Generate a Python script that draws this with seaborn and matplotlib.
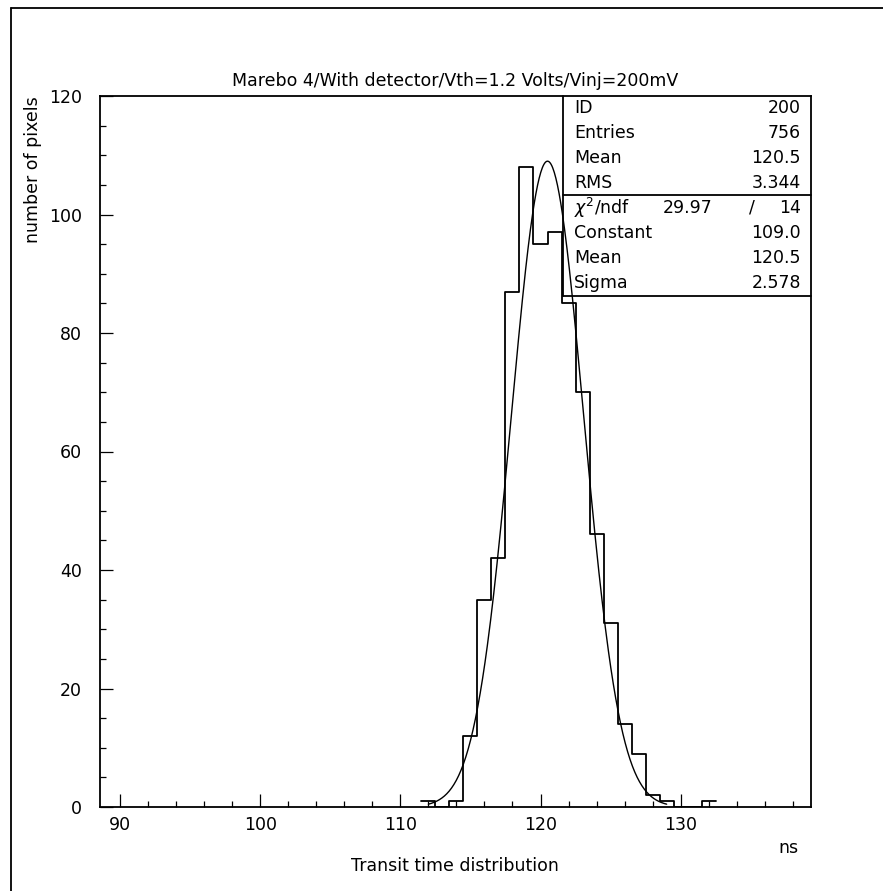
import numpy as np
import pandas as pd
import matplotlib
matplotlib.use("Agg")
import matplotlib.pyplot as plt
import seaborn as sns
from matplotlib.ticker import MultipleLocator

# ---- data ----
bin_centers = [112, 113, 114, 115, 116, 117, 118, 119, 120, 121, 122, 123, 124, 125, 126, 127, 128, 129, 130, 131, 132]
bin_counts  = [1,   0,   1,   12,  35,  42,  87,  108, 95,  97,  85,  70,  46,  31,  14,  9,   2,   1,   0,   0,   1]
fit_constant = 109.0
fit_mean = 120.5
fit_sigma = 2.578
fit_range = [112.0, 129.0]

title = "Marebo 4/With detector/Vth=1.2 Volts/Vinj=200mV"
xlabel = "Transit time distribution"
xunit = "ns"
ylabel = "number of pixels"
stats_top = [("ID", "200"), ("Entries", "756"), ("Mean", "120.5"), ("RMS", "3.344")]
stats_bottom = [("Constant", "109.0"), ("Mean", "120.5"), ("Sigma", "2.578")]
chi2_val, ndf_val = "29.97", "14"

W, H = 883, 891
sns.set_theme(style="white")
plt.rcParams['font.family'] = ['DejaVu Sans']
plt.rcParams['text.color'] = 'black'
plt.rcParams['xtick.color'] = 'black'
plt.rcParams['ytick.color'] = 'black'
plt.rcParams['axes.labelcolor'] = 'black'
FS = 12.5

fig = plt.figure(figsize=(W / 100, H / 100), dpi=100)
ax_l, ax_r, ax_t, ax_b = 100, 811, 96, 807
ax = fig.add_axes([ax_l / W, 1 - ax_b / H, (ax_r - ax_l) / W, (ax_b - ax_t) / H])

df = pd.DataFrame({"x": bin_centers, "n": bin_counts})
sns.histplot(data=df, x="x", weights="n", discrete=True, element="step", fill=False,
             color="black", linewidth=1.3, ax=ax)

xf = np.linspace(fit_range[0], fit_range[1], 300)
yf = fit_constant * np.exp(-0.5 * ((xf - fit_mean) / fit_sigma) ** 2)
sns.lineplot(x=xf, y=yf, color="black", linewidth=1.0, ax=ax)

ax.set_xlim(88.57, 139.3)
ax.set_ylim(0, 120)
ax.xaxis.set_major_locator(MultipleLocator(10))
ax.xaxis.set_minor_locator(MultipleLocator(2))
ax.yaxis.set_major_locator(MultipleLocator(20))
ax.yaxis.set_minor_locator(MultipleLocator(5))
ax.tick_params(which="major", direction="in", length=9.5, width=0.9, color="black",
               labelsize=FS, labelcolor="black", top=False, right=False, bottom=True, left=True)
ax.tick_params(which="minor", direction="in", length=4.5, width=0.9, color="black",
               top=False, right=False, bottom=True, left=True)
ax.tick_params(axis="x", which="major", pad=6.5)
ax.tick_params(axis="y", which="major", pad=13)
for s in ax.spines.values():
    s.set_color("black")
    s.set_linewidth(1.3)
ax.set_xlabel("")
ax.set_ylabel("")

def ft(x, y, s, **kw):
    fig.text(x / W, 1 - y / H, s, color="black", **kw)

ft(455, 81, title, ha="center", va="center", fontsize=FS)
ft(455, 866, xlabel, ha="center", va="center", fontsize=FS)
ft(798, 848, xunit, ha="right", va="center", fontsize=FS)
ft(33, 96, ylabel, ha="center", va="top", rotation=90, fontsize=FS)

# stats box
bx_l, bx_r, bx_t, bx_mid, bx_b = 563, 811, 96, 195, 296
def hline(y):
    fig.add_artist(plt.Line2D([bx_l / W, bx_r / W], [1 - y / H, 1 - y / H], color="black", lw=1.3))
fig.add_artist(plt.Line2D([bx_l / W, bx_l / W], [1 - bx_t / H, 1 - bx_b / H], color="black", lw=1.3))
hline(bx_mid)
hline(bx_b)
row_h1 = (bx_mid - bx_t) / 4
for i, (k, v) in enumerate(stats_top):
    yc = bx_t + row_h1 * (i + 0.5)
    ft(574, yc, k, ha="left", va="center", fontsize=FS)
    ft(801, yc, v, ha="right", va="center", fontsize=FS)
row_h2 = (bx_b - bx_mid) / 4
yc = bx_mid + row_h2 * 0.5
ft(574, yc, r"$\chi^2$/ndf", ha="left", va="center", fontsize=FS)
ft(712, yc, chi2_val, ha="right", va="center", fontsize=FS)
ft(752, yc, "/", ha="center", va="center", fontsize=FS)
ft(801, yc, ndf_val, ha="right", va="center", fontsize=FS)
for i, (k, v) in enumerate(stats_bottom):
    yc = bx_mid + row_h2 * (i + 1.5)
    ft(574, yc, k, ha="left", va="center", fontsize=FS)
    ft(801, yc, v, ha="right", va="center", fontsize=FS)

# outer frame (left and top edges)
fig.add_artist(plt.Line2D([11 / W, 11 / W], [0, 1 - 8 / H], color="black", lw=1.3))
fig.add_artist(plt.Line2D([11 / W, 1], [1 - 8 / H, 1 - 8 / H], color="black", lw=1.3))

fig.savefig("out.png", dpi=100)
